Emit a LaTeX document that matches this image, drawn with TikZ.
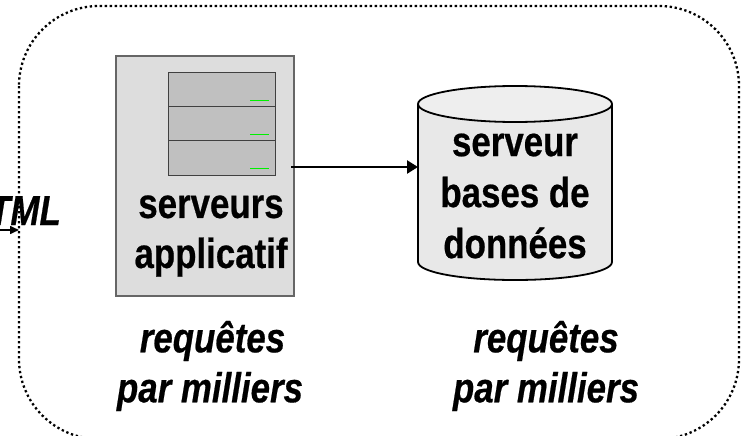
\documentclass[tikz,border=0pt]{standalone}
\usepackage{fontspec}
\setmainfont[FakeStretch=0.83,BoldFeatures={FakeBold=0.5},BoldItalicFeatures={FakeBold=0.5}]{Liberation Sans}
\usetikzlibrary{arrows.meta}
\definecolor{panel}{RGB}{221,221,221}
\definecolor{rack}{RGB}{192,192,192}
\definecolor{dbside}{RGB}{232,232,232}
\definecolor{dbtop}{RGB}{238,238,238}
\definecolor{led}{RGB}{0,240,0}
\tikzset{
  x=1pt,y=-1pt,
  label text/.style={inner sep=0pt,align=center,font=\fontsize{42}{50}\selectfont\bfseries},
  db text/.style={inner sep=0pt,align=center,font=\fontsize{42}{51}\selectfont\bfseries},
  italic text/.style={inner sep=0pt,align=center,font=\fontsize{42}{50}\selectfont\bfseries\itshape},
  rackunit/.style={draw=black!75,fill=rack,line width=1pt,minimum width=107pt,minimum height=34.3pt,inner sep=0pt,anchor=north west},
  ledline/.style={draw=led,line width=1pt},
  flow/.style={draw=black,line width=2.4pt,-{Triangle[length=11pt,width=13pt]}}
}
\begin{document}
\begin{tikzpicture}
\useasboundingbox (0,0) rectangle (741,436);
\draw[line width=2.3pt,dash pattern=on 2.3pt off 2.7pt,rounded corners=80pt] (19,6) rectangle (739,439);
\node[draw=black!60,fill=panel,line width=1.6pt,minimum width=178pt,minimum height=240pt,inner sep=0pt,anchor=north west] (srv) at (115,55) {};
\node[rackunit] (r1) at (168,72) {};
\node[rackunit] (r2) at (168,106) {};
\node[rackunit] (r3) at (168,140.3) {};
\draw[ledline] (250,100) -- (269,100);
\draw[ledline] (250,134.5) -- (269,134.5);
\draw[ledline] (250,168.5) -- (269,168.5);
% database
\fill[dbside] (418,104) -- (418,262) .. controls (418,272) and (460,280) .. (515,280) .. controls (570,280) and (612,272) .. (612,262) -- (612,104) -- cycle;
\draw[line width=1.8pt] (418,104) -- (418,262) .. controls (418,272) and (460,280) .. (515,280) .. controls (570,280) and (612,272) .. (612,262) -- (612,104);
\draw[line width=1.8pt,fill=dbtop] (515,104) ellipse[x radius=97,y radius=18];
\coordinate (dbin) at (418,167);
\coordinate (srvout) at (291,167);
\draw[flow] (srvout) -- (dbin);
\node[label text] (srvlabel) at (211,236) {serveurs\\applicatif};
\node[db text] (dblabel) at (515,196) {serveur\\bases de\\données};
\node[italic text] (req1) at (210,366) {\hspace{5pt}requêtes\\par milliers};
\node[italic text] (req2) at (546,366) {requêtes\\par milliers};
\node[inner sep=0pt,anchor=base east,font=\fontsize{42}{42}\selectfont\bfseries\itshape] (html) at (61,225) {HTML};
\coordinate (inA) at (0,230);
\coordinate (inB) at (19,230);
\draw[draw=black,line width=1.6pt,-{Triangle[length=9pt,width=8pt]}] (inA) -- (inB);
\end{tikzpicture}
\end{document}
